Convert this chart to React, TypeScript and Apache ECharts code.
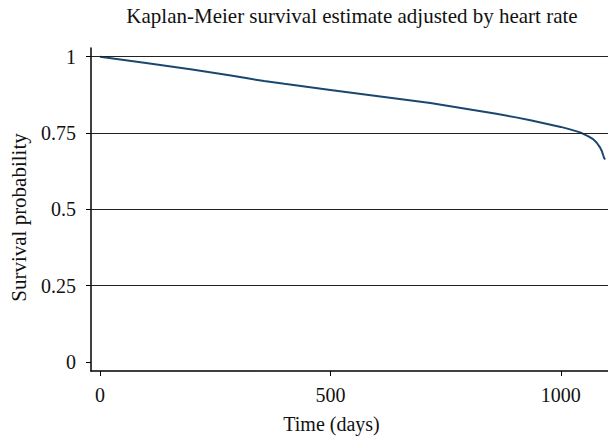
import React, { useEffect, useRef } from "react";
import * as echarts from "echarts";

const times = [0, 100, 200, 284, 320, 356, 400, 500, 600, 717, 800, 860, 900, 934, 1000, 1020, 1042, 1060, 1070, 1078, 1085, 1089, 1092, 1094, 1096];
const survival = [1.0, 0.979, 0.958, 0.938, 0.929, 0.920, 0.911, 0.891, 0.871, 0.848, 0.828, 0.813, 0.802, 0.792, 0.770, 0.762, 0.752, 0.739, 0.730, 0.718, 0.703, 0.691, 0.677, 0.668, 0.663];
const xTicks = [0, 500, 1000];
const yTicks = [0, 0.25, 0.5, 0.75, 1];
const gridLines = [0.25, 0.5, 0.75, 1];

const FONT = "Liberation Serif";

export default function App() {
  const ref = useRef<HTMLDivElement>(null);
  useEffect(() => {
    if (!ref.current) return;
    const chart = echarts.init(ref.current, undefined, { renderer: "svg" });
    chart.setOption({
      animation: false,
      backgroundColor: "#ffffff",
      title: {
        text: "Kaplan-Meier survival estimate adjusted by heart rate",
        left: 347,
        textAlign: "center",
        top: 0,
        textStyle: { fontFamily: FONT, fontSize: 21, fontWeight: "normal", color: "#111" },
      },
      grid: { left: 90, right: 0, top: 48, bottom: 67 },
      xAxis: {
        type: "value",
        min: -19.5,
        max: 1102.4,
        name: "Time (days)",
        nameLocation: "middle",
        nameGap: 43,
        nameTextStyle: { fontFamily: FONT, fontSize: 20, color: "#111", padding: [0, 36, 0, 0] },
        axisLine: { show: true, onZero: false, lineStyle: { color: "#000", width: 1.5 } },
        axisTick: { show: true, customValues: xTicks, length: 5, lineStyle: { color: "#000", width: 1 } },
        axisLabel: {
          customValues: xTicks,
          formatter: (v: number) => String(v),
          fontFamily: FONT,
          fontSize: 20,
          color: "#111",
          margin: 14,
        },
        splitLine: { show: false },
      },
      yAxis: {
        type: "value",
        min: -0.0294,
        max: 1.0284,
        name: "Survival probability",
        nameLocation: "middle",
        nameGap: 62,
        nameRotate: 90,
        nameTextStyle: { fontFamily: FONT, fontSize: 21, color: "#111", padding: [0, 16, 0, 0] },
        axisLine: { show: true, onZero: false, lineStyle: { color: "#000", width: 1.5 } },
        axisTick: { show: true, customValues: yTicks, length: 5, lineStyle: { color: "#000", width: 1 } },
        axisLabel: {
          customValues: yTicks,
          formatter: (v: number) => String(v),
          fontFamily: FONT,
          fontSize: 20,
          color: "#111",
          margin: 15,
        },
        splitLine: { show: false },
      },
      series: [
        {
          type: "line",
          data: times.map((t, i) => [t, survival[i]]),
          showSymbol: false,
          smooth: false,
          lineStyle: { color: "#1a476f", width: 2 },
          markLine: {
            silent: true,
            symbol: "none",
            label: { show: false },
            lineStyle: { color: "#222", width: 1, type: "solid" },
            data: gridLines.map((v) => ({ yAxis: v })),
          },
          z: 3,
        },
      ],
    });
    return () => chart.dispose();
  }, []);
  return <div ref={ref} style={{ width: 608, height: 439, position: "absolute", left: 0, top: 0 }} />;
}
